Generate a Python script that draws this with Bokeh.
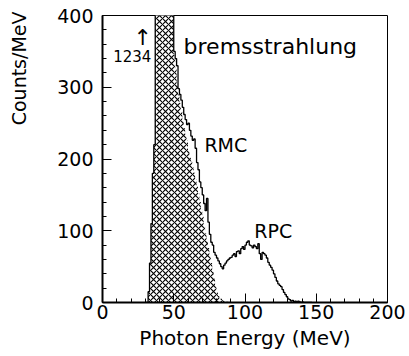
from bokeh.plotting import figure
from bokeh.models import Range1d, Label, FixedTicker, Title
from bokeh.embed import file_html
from bokeh.resources import INLINE

# bin lower edges (1 MeV bins)
bin_lo = list(range(30, 151))

# bremsstrahlung (hatched) counts per MeV, bins 30..150
brems = [0, 0, 15, 55, 110, 180, 220, 800, 1050, 1234, 1200, 1150, 1050, 950, 850, 750,
         650, 570, 490, 420, 345, 325, 305, 290, 278, 266, 254, 243, 234, 226,
         212, 202, 196, 188, 181, 172, 162, 152, 140, 130, 120, 108, 96, 86, 76,
         66, 55, 43, 33, 24, 15, 9, 5, 6, 3, 2, 3, 1, 1] + [0] * 62

# total (bremsstrahlung + RMC + RPC) counts per MeV, bins 30..150
total = [0, 0, 15, 55, 110, 180, 220, 810, 1060, 1240, 1210, 1160, 1060, 960, 860, 760,
         660, 580, 500, 430, 350, 340, 330, 298, 290, 282, 272, 262, 255, 248,
         250, 240, 232, 226, 228, 215, 195, 185, 168, 160, 150, 138, 128, 145, 112,
         95, 84, 80, 70, 66, 62, 58, 54, 50, 47, 52, 55, 58, 60, 62,
         63, 66, 68, 64, 71, 72, 68, 75, 78, 74, 80, 84, 86, 80, 79,
         76, 80, 78, 75, 82, 68, 60, 70, 68, 66, 62, 56, 52, 49, 45,
         40, 35, 30, 26, 24, 22, 18, 14, 11, 8, 5, 4, 2, 3, 1,
         2, 0, 2, 1, 0, 1, 0, 0, 0, 0, 0, 0]

x_ticks = [0, 50, 100, 150, 200]
y_ticks = [0, 100, 200, 300, 400]

edges = bin_lo + [bin_lo[-1] + 1]
brems_steps = brems + [0]
total_steps = total + [0]

FONT = "DejaVu Sans"

p = figure(width=409, height=356, output_backend="svg", toolbar_location=None,
           x_range=Range1d(0, 200), y_range=Range1d(0, 400),
           min_border_left=101, min_border_right=22, min_border_top=15,
           min_border_bottom=54)
p.background_fill_color = "white"
p.border_fill_color = "white"
p.grid.visible = False
p.outline_line_color = "black"
p.outline_line_width = 1

p.varea_step(x=edges, y1=[0] * len(edges), y2=brems_steps, step_mode="after",
             fill_color="white", hatch_pattern="diagonal_cross", hatch_color="black",
             hatch_scale=6, hatch_weight=1.1)
p.step(x=edges, y=total_steps, mode="after", line_color="black", line_width=1.3)

for ax in (p.xaxis, p.yaxis):
    ax.axis_line_width = 2
    ax.axis_line_color = "black"
    ax.major_tick_in = 9
    ax.major_tick_out = 0
    ax.minor_tick_in = 4
    ax.minor_tick_out = 0
    ax.major_tick_line_color = "black"
    ax.minor_tick_line_color = "black"
    ax.major_label_text_font = FONT
    ax.major_label_text_font_size = "19px"
    ax.major_label_text_color = "black"

p.xaxis.ticker = FixedTicker(ticks=x_ticks, minor_ticks=list(range(0, 201, 10)))
p.yaxis.ticker = FixedTicker(ticks=y_ticks, minor_ticks=list(range(0, 401, 20)))
p.xaxis.major_label_standoff = 2
p.yaxis.major_label_standoff = 9

p.xaxis.axis_label = "Photon Energy (MeV)"
p.xaxis.axis_label_text_font = FONT
p.xaxis.axis_label_text_font_size = "20px"
p.xaxis.axis_label_text_font_style = "normal"
p.xaxis.axis_label_text_color = "black"
p.xaxis.axis_label_standoff = 4

# blank spacer label pushes the left title outward
p.yaxis.axis_label = " "
p.yaxis.axis_label_text_font_size = "12px"
p.yaxis.axis_label_standoff = 3

ylab = Title(text="Counts/MeV", align="right", text_font=FONT,
             text_font_size="19px", text_font_style="normal", text_color="black",
             offset=-4)
p.add_layout(ylab, "left")

def txt(x, y, s, size, align="left"):
    p.add_layout(Label(x=x, y=y, text=s, text_font=FONT, text_font_size=size,
                       text_color="black", text_align=align, text_baseline="alphabetic"))

txt(56.9, 357, "bremsstrahlung", "22px")
txt(71.5, 219, "RMC", "19px")
txt(106.5, 100, "RPC", "19px")
txt(34.3, 344, "1234", "15px", "right")
txt(28.3, 369, "\u2191", "22px", "center")

open("out.html", "w").write(file_html(p, INLINE))
